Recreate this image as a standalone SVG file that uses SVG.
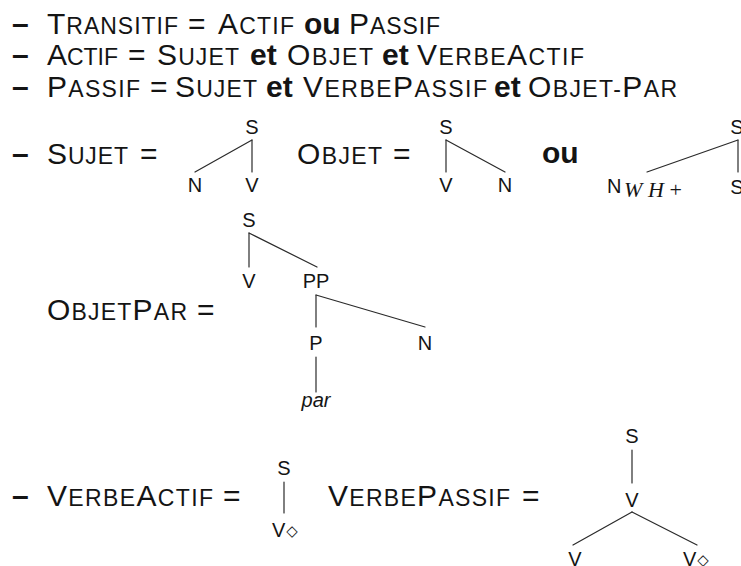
<svg xmlns="http://www.w3.org/2000/svg" width="741" height="566" viewBox="0 0 741 566">
<style>
text { font-family: "Liberation Sans", Arial, sans-serif; fill: #141414; }
.L { font-size: 30px; }
.s { font-size: 23px; }
.b { font-size: 30px; font-weight: bold; }
.d { font-size: 30px; font-weight: bold; }
.n { font-size: 20px; text-anchor: middle; }
.v { font-size: 20px; }
.m { font-family: "Liberation Serif", serif; font-style: italic; font-size: 22px; }
.up { font-style: normal; }
.it { font-style: italic; }
.dia { font-family: "DejaVu Sans", sans-serif; font-size: 15px; }
.e { stroke: #2a2a2a; stroke-width: 1.2; fill: none; stroke-linecap: round; }
</style>
<rect width="741" height="566" fill="#ffffff"/>

<g id="rules">
  <text class="d" x="12" y="34">–</text>
  <text x="47" y="34" textLength="131" lengthAdjust="spacing"><tspan class="L">T</tspan><tspan class="s">RANSITIF</tspan></text>
  <text class="L" x="188" y="34">=</text>
  <text x="218" y="34" textLength="76" lengthAdjust="spacing"><tspan class="L">A</tspan><tspan class="s">CTIF</tspan></text>
  <text class="b" x="304" y="34">ou</text>
  <text x="349" y="34" textLength="91" lengthAdjust="spacing"><tspan class="L">P</tspan><tspan class="s">ASSIF</tspan></text>

  <text class="d" x="12" y="65">–</text>
  <text x="47" y="65" textLength="71" lengthAdjust="spacing"><tspan class="L">A</tspan><tspan class="s">CTIF</tspan></text>
  <text class="L" x="128" y="65">=</text>
  <text x="157" y="65" textLength="82" lengthAdjust="spacing"><tspan class="L">S</tspan><tspan class="s">UJET</tspan></text>
  <text class="b" x="250" y="65">et</text>
  <text x="287" y="65" textLength="86" lengthAdjust="spacing"><tspan class="L">O</tspan><tspan class="s">BJET</tspan></text>
  <text class="b" x="382" y="65">et</text>
  <text x="417" y="65" textLength="167" lengthAdjust="spacing"><tspan class="L">V</tspan><tspan class="s">ERBE</tspan><tspan class="L">A</tspan><tspan class="s">CTIF</tspan></text>

  <text class="d" x="12" y="97">–</text>
  <text x="47" y="97" textLength="93" lengthAdjust="spacing"><tspan class="L">P</tspan><tspan class="s">ASSIF</tspan></text>
  <text class="L" x="150" y="97">=</text>
  <text x="175" y="97" textLength="82" lengthAdjust="spacing"><tspan class="L">S</tspan><tspan class="s">UJET</tspan></text>
  <text class="b" x="266" y="97">et</text>
  <text x="303" y="97" textLength="184" lengthAdjust="spacing"><tspan class="L">V</tspan><tspan class="s">ERBE</tspan><tspan class="L">P</tspan><tspan class="s">ASSIF</tspan></text>
  <text class="b" x="494" y="97">et</text>
  <text x="528" y="97" textLength="149" lengthAdjust="spacing"><tspan class="L">O</tspan><tspan class="s">BJET-</tspan><tspan class="L">P</tspan><tspan class="s">AR</tspan></text>

  <text class="d" x="12" y="164">–</text>
  <text x="47" y="164" textLength="81" lengthAdjust="spacing"><tspan class="L">S</tspan><tspan class="s">UJET</tspan></text>
  <text class="L" x="140" y="164">=</text>
  <text x="297" y="164" textLength="85" lengthAdjust="spacing"><tspan class="L">O</tspan><tspan class="s">BJET</tspan></text>
  <text class="L" x="393" y="164">=</text>
  <text class="b" x="542" y="163">ou</text>

  <text x="47" y="320" textLength="140" lengthAdjust="spacing"><tspan class="L">O</tspan><tspan class="s">BJET</tspan><tspan class="L">P</tspan><tspan class="s">AR</tspan></text>
  <text class="L" x="197" y="320">=</text>

  <text class="d" x="12" y="506">–</text>
  <text x="47" y="506" textLength="166" lengthAdjust="spacing"><tspan class="L">V</tspan><tspan class="s">ERBE</tspan><tspan class="L">A</tspan><tspan class="s">CTIF</tspan></text>
  <text class="L" x="223" y="506">=</text>
  <text x="328" y="506" textLength="182" lengthAdjust="spacing"><tspan class="L">V</tspan><tspan class="s">ERBE</tspan><tspan class="L">P</tspan><tspan class="s">ASSIF</tspan></text>
  <text class="L" x="522" y="506">=</text>
</g>

<g id="connectors">
  <line class="e" x1="252" y1="140" x2="252" y2="172"/>
  <line class="e" x1="252" y1="140" x2="195" y2="172"/>
  <line class="e" x1="446" y1="140" x2="446" y2="172"/>
  <line class="e" x1="446" y1="140" x2="505" y2="172"/>
  <line class="e" x1="738" y1="140" x2="647" y2="172"/>
  <line class="e" x1="738" y1="140" x2="738" y2="172"/>
  <line class="e" x1="249" y1="233" x2="249" y2="267"/>
  <line class="e" x1="249" y1="233" x2="317" y2="267"/>
  <line class="e" x1="316" y1="295" x2="316" y2="327"/>
  <line class="e" x1="316" y1="295" x2="425" y2="327"/>
  <line class="e" x1="316" y1="357" x2="316" y2="392"/>
  <line class="e" x1="284" y1="482" x2="284" y2="513"/>
  <line class="e" x1="632" y1="450" x2="632" y2="483"/>
  <line class="e" x1="632" y1="512" x2="573" y2="545"/>
  <line class="e" x1="632" y1="512" x2="697" y2="545"/>
</g>

<g id="sujet-S"><text class="n" x="252" y="134">S</text></g>
<g id="sujet-N"><text class="n" x="195" y="192">N</text></g>
<g id="sujet-V"><text class="n" x="252" y="192">V</text></g>

<g id="objet-S"><text class="n" x="446" y="134">S</text></g>
<g id="objet-V"><text class="n" x="446" y="192">V</text></g>
<g id="objet-N"><text class="n" x="505" y="192">N</text></g>

<g id="objwh-S"><text class="n" x="737" y="134">S</text></g>
<g id="objwh-N"><text class="v" x="607" y="193">N</text><text class="m" x="624" y="197" textLength="58" lengthAdjust="spacing">WH<tspan class="up">+</tspan></text></g>
<g id="objwh-S2"><text class="n" x="737" y="194">S</text></g>

<g id="op-S"><text class="n" x="249" y="227">S</text></g>
<g id="op-V"><text class="n" x="249" y="288">V</text></g>
<g id="op-PP"><text class="n" x="316" y="288">PP</text></g>
<g id="op-P"><text class="n" x="316" y="350">P</text></g>
<g id="op-N"><text class="n" x="425" y="350">N</text></g>
<g id="op-par"><text class="n it" x="316" y="407">par</text></g>

<g id="va-S"><text class="n" x="284" y="475">S</text></g>
<g id="va-V"><text class="v" x="272" y="537">V<tspan class="dia" dx="1" dy="-1">◇</tspan></text></g>

<g id="vp-S"><text class="n" x="632" y="443">S</text></g>
<g id="vp-V"><text class="n" x="632" y="507">V</text></g>
<g id="vp-V1"><text class="n" x="575" y="566">V</text></g>
<g id="vp-V2"><text class="v" x="683" y="566">V<tspan class="dia" dx="1" dy="-1">◇</tspan></text></g>
</svg>
